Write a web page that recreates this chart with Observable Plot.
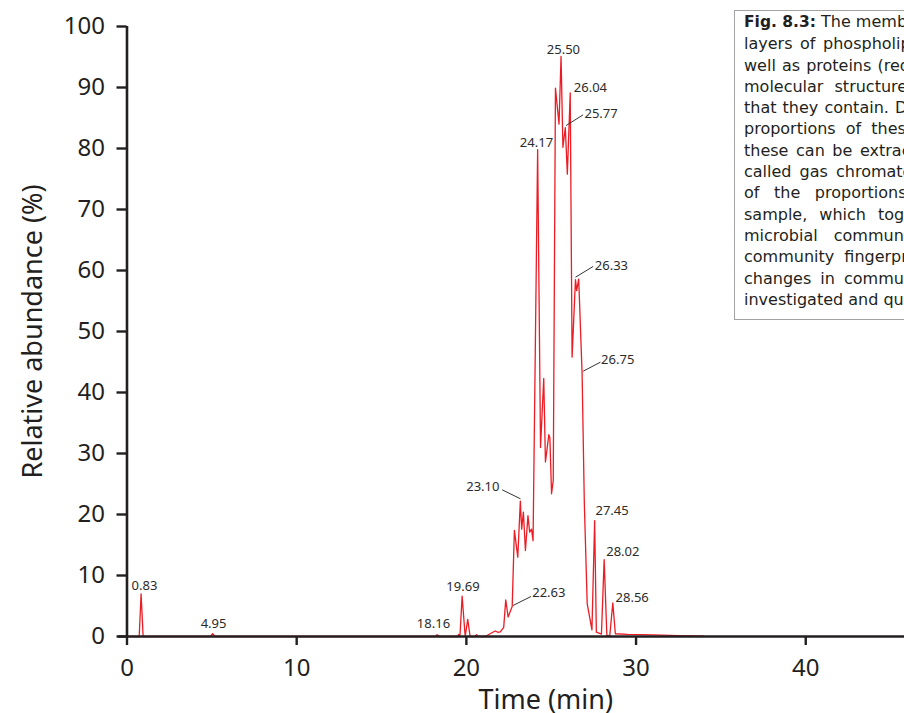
<!DOCTYPE html>
<html>
<head>
<meta charset="utf-8">
<script src="https://cdn.jsdelivr.net/npm/d3@7"></script>
<script src="https://cdn.jsdelivr.net/npm/@observablehq/plot@0.6"></script>
<style>
  html, body { margin: 0; padding: 0; background: #fff; overflow: hidden; }
  #wrap { position: relative; width: 904px; height: 713px; overflow: hidden; }
  #caption {
    position: absolute; left: 734px; top: 10px; width: 340px; height: 310px;
    border: 1.5px solid #a3a3a3; background: #fff; box-sizing: border-box;
    padding: 0 0 0 9px; font-family: "DejaVu Sans", sans-serif; font-size: 16px;
    line-height: 21.3px; color: #231f20;
  }
  #caption div { white-space: nowrap; }
  #caption b { font-size: 15.5px; }
</style>
</head>
<body>
<div id="wrap">
  <div id="chart"></div>
  <div id="caption">
    <div><b>Fig. 8.3:</b> The membranes</div>
    <div style="word-spacing:2.5px">layers of phospholipids</div>
    <div style="word-spacing:1px">well as proteins (red)</div>
    <div style="word-spacing:6px">molecular structures</div>
    <div style="word-spacing:1px">that they contain. Different</div>
    <div style="word-spacing:5px">proportions of these</div>
    <div style="word-spacing:2.5px">these can be extracted</div>
    <div style="word-spacing:3px">called gas chromatography</div>
    <div style="word-spacing:9.5px">of the proportions</div>
    <div style="word-spacing:7px">sample, which together</div>
    <div style="word-spacing:11px">microbial community</div>
    <div style="word-spacing:5px">community fingerprint</div>
    <div style="word-spacing:4px">changes in community</div>
    <div>investigated and quantified</div>
  </div>
</div>
<script>
// Chromatogram trace (time in min, relative abundance in %)
const time = [0, 0.72, 0.83, 0.95, 4.9, 5.05, 5.2, 18.15, 18.28, 18.4, 19.45, 19.55, 19.62, 19.75, 19.93, 20.08, 20.22, 20.5, 20.6, 20.7, 21.1, 21.4, 21.7, 21.85, 22.0, 22.2, 22.32, 22.46, 22.7, 22.83, 23.03, 23.18, 23.26, 23.36, 23.48, 23.63, 23.73, 23.84, 23.93, 24.2, 24.37, 24.56, 24.66, 24.86, 24.92, 25.02, 25.12, 25.25, 25.46, 25.58, 25.69, 25.83, 25.95, 26.12, 26.23, 26.43, 26.5, 26.62, 26.82, 26.95, 27.12, 27.4, 27.56, 27.66, 27.96, 28.12, 28.28, 28.45, 28.63, 28.78, 29.5, 31, 32.5, 34];
const abundance = [0, 0, 7.0, 0, 0, 0.45, 0, 0, 0.3, 0, 0, 0.35, 0, 6.6, 0, 2.8, 0, 0, 0.3, 0, 0, 0.45, 0.9, 0.7, 0.75, 1.5, 6.0, 3.2, 4.9, 17.4, 13.0, 22.2, 17.6, 20.4, 14.1, 19.8, 17.1, 17.6, 15.7, 79.8, 31.0, 42.3, 28.6, 33.1, 32.6, 23.4, 25.6, 89.9, 84.0, 95.1, 80.2, 83.4, 75.8, 89.1, 45.8, 58.5, 56.7, 58.6, 43.1, 22, 5.4, 1.1, 19.0, 0.7, 0.4, 12.6, 0.15, 0.15, 5.5, 0.45, 0.35, 0.25, 0.15, 0.05];

// Axis ticks
const xTicks = [0, 10, 20, 30, 40];
const yTicks = [0, 10, 20, 30, 40, 50, 60, 70, 80, 90, 100];

// Peak labels: centred above peak
const midText = ["0.83", "4.95", "18.16", "19.69", "24.17", "25.50"];
const midX = [1.03, 5.10, 18.06, 19.80, 24.13, 25.72];
const midY = [8.36, 2.13, 2.13, 8.08, 80.93, 96.18];
// Peak labels: starting to the right
const startText = ["22.63", "27.45", "28.02", "28.56", "26.04", "25.77", "26.33", "26.75"];
const startX = [23.88, 27.61, 28.24, 28.79, 26.33, 26.96, 27.57, 27.94];
const startY = [7.10, 20.66, 13.93, 6.34, 89.95, 85.69, 60.82, 45.36];
// Peak labels: ending to the left
const endText = ["23.10"];
const endX = [21.95];
const endY = [24.48];

// Leader lines
const leadX1 = [22.75, 22.11, 25.88, 26.43, 26.88];
const leadY1 = [5.08, 24.05, 83.77, 58.90, 43.49];
const leadX2 = [23.81, 23.19, 26.88, 27.47, 27.90];
const leadY2 = [6.56, 22.57, 85.52, 60.66, 44.97];

const series = time.map((t, i) => ({t, a: abundance[i]}));
const mids = midText.map((s, i) => ({s, x: midX[i], y: midY[i]}));
const starts = startText.map((s, i) => ({s, x: startX[i], y: startY[i]}));
const ends = endText.map((s, i) => ({s, x: endX[i], y: endY[i]}));
const leaders = leadX1.map((_, i) => ({x1: leadX1[i], y1: leadY1[i], x2: leadX2[i], y2: leadY2[i]}));

const ink = "#231f20";
const red = "#ed1c24";
const lab = {fontSize: 13, fill: "#2b2b2b", lineAnchor: "middle"};

const chart = Plot.plot({
  width: 904,
  height: 713,
  marginLeft: 126.5,
  marginRight: 0,
  marginTop: 26,
  marginBottom: 77,
  x: {domain: [0, 45.82]},
  y: {domain: [0, 100]},
  style: {fontFamily: "'Noto Sans', sans-serif", color: ink, background: "white", overflow: "visible"},
  marks: [
    Plot.line(series, {x: "t", y: "a", stroke: red, strokeWidth: 1.3}),
    Plot.ruleX([0], {stroke: ink, strokeWidth: 2.6}),
    Plot.ruleY([0], {stroke: ink, strokeWidth: 2.6, x1: -0.5, x2: 45.82}),
    Plot.axisX({ticks: xTicks, tickSize: 9, tickPadding: 13, fontSize: 24, strokeWidth: 2.4, stroke: ink, label: null}),
    Plot.axisY({ticks: yTicks, tickSize: 10, tickPadding: 12, fontSize: 24, strokeWidth: 2.4, stroke: ink, label: null}),
    Plot.link(leaders, {x1: "x1", y1: "y1", x2: "x2", y2: "y2", stroke: "#333", strokeWidth: 1}),
    Plot.text(mids, {x: "x", y: "y", text: "s", textAnchor: "middle", ...lab}),
    Plot.text(starts, {x: "x", y: "y", text: "s", textAnchor: "start", ...lab}),
    Plot.text(ends, {x: "x", y: "y", text: "s", textAnchor: "end", ...lab}),
    Plot.text(["Relative abundance (%)"], {frameAnchor: "left", rotate: -90, dx: -94, fontSize: 27, fill: ink, textAnchor: "middle", lineAnchor: "middle"}),
    Plot.text(["Time (min)"], {frameAnchor: "bottom", dx: 30, dy: 64, fontSize: 27, fill: ink, textAnchor: "middle", lineAnchor: "middle"})
  ]
});
document.getElementById("chart").appendChild(chart);
</script>
</body>
</html>
